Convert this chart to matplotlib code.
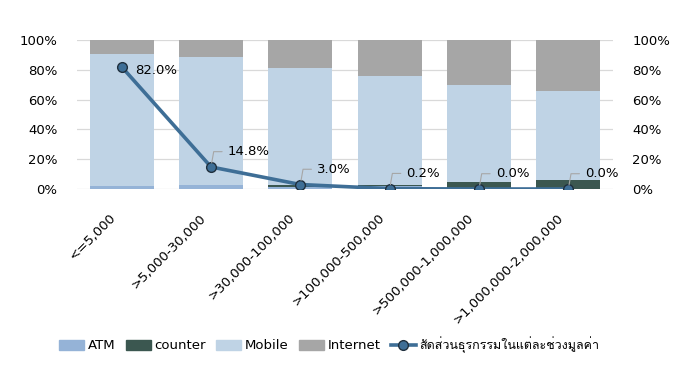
import numpy as np
import matplotlib
matplotlib.use("Agg")
import matplotlib.pyplot as plt
import matplotlib.transforms as mtransforms
from matplotlib import font_manager
from matplotlib.lines import Line2D
from matplotlib.patches import Patch
from matplotlib.ticker import PercentFormatter

categories = ["<=5,000", ">5,000-30,000", ">30,000-100,000", ">100,000-500,000",
              ">500,000-1,000,000", ">1,000,000-2,000,000"]
atm = [2.0, 3.0, 1.5, 2.0, 0.3, 0.2]
counter = [0.0, 0.0, 1.0, 0.5, 4.5, 5.8]
mobile = [88.6, 85.6, 78.9, 73.5, 65.2, 60.0]
internet = [9.4, 11.4, 18.6, 24.0, 30.0, 34.0]
share = [82.0, 14.8, 3.0, 0.2, 0.0, 0.0]
line_label = "สัดส่วนธุรกรรมในแต่ละช่วงมูลค่า"


def find_thai_font():
    # look for any installed font that has Thai glyphs
    from matplotlib.ft2font import FT2Font
    found = []
    for path in font_manager.findSystemFonts():
        try:
            cmap = FT2Font(path).get_charmap()
        except Exception:
            continue
        if 0x0E2A in cmap and 0x0E31 in cmap:
            found.append(path)
    # prefer sans fonts without "Looped"/"Serif"
    found.sort(key=lambda p: ("Serif" in p, "Bold" in p, "Looped" in p, p))
    if not found:
        return None, None
    return font_manager.FontProperties(fname=found[0]).get_name(), found[0]


thai_name, thai_path = find_thai_font()
if thai_path:
    font_manager.fontManager.addfont(thai_path)
families = ["DejaVu Sans"]
if thai_name:
    families.append(thai_name)
plt.rcParams["font.family"] = families

c_atm = "#95b3d7"
c_counter = "#3b5750"
c_mobile = "#bfd3e5"
c_internet = "#a6a6a6"
c_line = "#3e6e96"
fs = 9.5

fig = plt.figure(figsize=(6.79, 3.65), dpi=100)
ax = fig.add_axes([0.1134, 0.4822, 0.7894, 0.4082])
x = np.arange(len(categories))
w = 0.72

bottom = np.zeros(len(categories))
for vals, col in [(atm, c_atm), (counter, c_counter), (mobile, c_mobile), (internet, c_internet)]:
    ax.bar(x, vals, w, bottom=bottom, color=col, zorder=2)
    bottom += np.array(vals)

ax.plot(x, share, color=c_line, lw=2.6, marker="o", ms=7,
        mfc=c_line, mec="#1f2f3d", mew=1, zorder=4)

ax.annotate(f"{share[0]:.1f}%", (x[0], share[0]), xytext=(10, -3),
            textcoords="offset points", ha="left", va="center", fontsize=fs, zorder=5)
for i in range(1, len(share)):
    ax.annotate(f"{share[i]:.1f}%", (x[i], share[i]), xytext=(12, 11),
                textcoords="offset points", ha="left", va="center", fontsize=fs,
                arrowprops=dict(arrowstyle="-", color="#a6a6a6", lw=0.8,
                                connectionstyle="angle,angleA=0,angleB=80,rad=0",
                                shrinkA=2, shrinkB=3),
                zorder=5)

ax.set_xlim(-0.5, len(categories) - 0.5)
ax.set_ylim(0, 100)
ax.set_yticks(np.arange(0, 101, 20))
ax.yaxis.set_major_formatter(PercentFormatter(decimals=0))
ax.grid(axis="y", color="#d9d9d9", lw=0.9, zorder=0)
ax.set_axisbelow(True)
for s in ax.spines.values():
    s.set_visible(False)
ax.tick_params(axis="both", length=0, labelsize=fs, colors="black")
ax.tick_params(axis="y", pad=14)
ax.set_xticks(x)
ax.set_xticklabels(categories, rotation=45, ha="right", rotation_mode="anchor")
ax.tick_params(axis="x", pad=16)
shift = mtransforms.ScaledTranslation(-0.12, 0, fig.dpi_scale_trans)
for lab in ax.get_xticklabels():
    lab.set_transform(lab.get_transform() + shift)

ax2 = ax.twinx()
ax2.set_ylim(0, 100)
ax2.set_yticks(np.arange(0, 101, 20))
ax2.yaxis.set_major_formatter(PercentFormatter(decimals=0))
for s in ax2.spines.values():
    s.set_visible(False)
ax2.tick_params(axis="y", length=0, labelsize=fs, pad=14)

handles = [Patch(color=c_atm), Patch(color=c_counter), Patch(color=c_mobile),
           Patch(color=c_internet),
           Line2D([], [], color=c_line, lw=2.6, marker="o", ms=7, mfc=c_line, mec="#1f2f3d")]
labels = ["ATM", "counter", "Mobile", "Internet", line_label]
leg = fig.legend(handles, labels, loc="center", bbox_to_anchor=(0.485, 0.055), ncol=5,
                 frameon=False, fontsize=fs, handlelength=1.9, handleheight=0.8,
                 handletextpad=0.25, columnspacing=0.8)
leg.get_texts()[-1].set_fontsize(9)

fig.savefig("out.png", dpi=100)
